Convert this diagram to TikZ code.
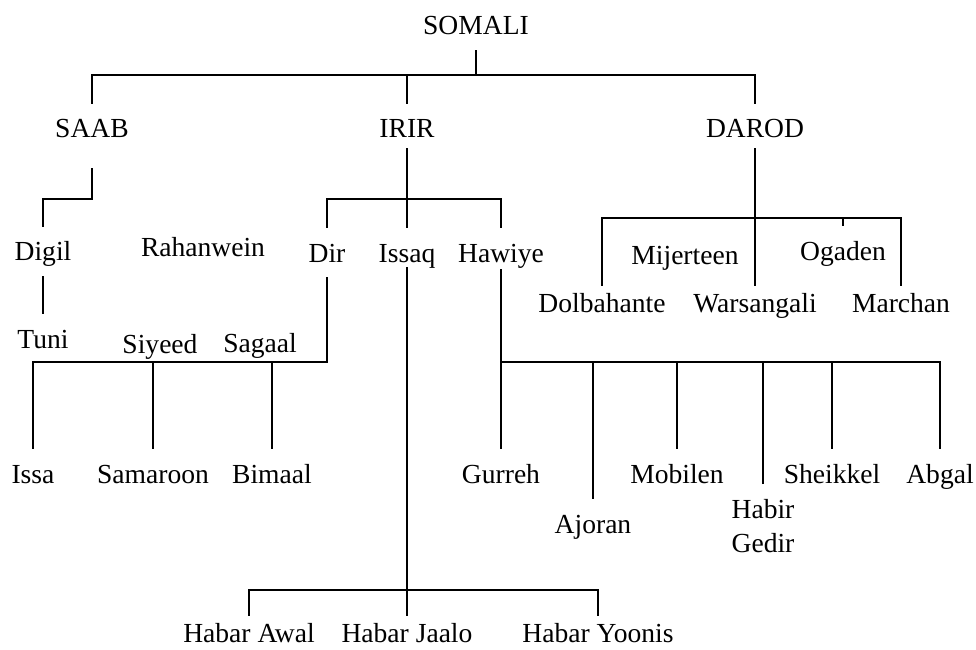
\documentclass[tikz,border=0pt]{standalone}
\usepackage{fontspec}
\setmainfont{Liberation Serif}
\usetikzlibrary{calc}

\begin{document}
\begin{tikzpicture}[
  x=0.025cm, y=-0.025cm,
  font=\fontsize{19.6pt}{24pt}\selectfont,
  lbl/.style={anchor=base, inner xsep=0pt, inner ysep=0.375cm,
              text height=0.475cm, text depth=0pt},
  tight/.style={lbl, inner ysep=0.17cm},
  tree/.style={line width=1pt},
]
\useasboundingbox (0,0) rectangle (976,650);

% top levels
\node[lbl] (somali) at (476,35) {SOMALI};
\node[lbl] (saab) at (92,138) {SAAB};
\node[lbl] (irir) at (407,138) {IRIR};
\node[lbl] (darod) at (755,138) {DAROD};

% third row
\node[lbl] (digil) at (43,261) {Digil};
\node[lbl] (rahan) at (203,256) {Rahanwein};
\node[lbl] (dir) at (327,262) {Dir};
\node[lbl] (issaq) at (407,262) {Issaq};
\node[lbl] (hawiye) at (501,262) {Hawiye};
\node[lbl] (mijer) at (685,265) {Mijerteen};
\node[lbl] (ogaden) at (843,260) {Ogaden};
\node[tight] (dolba) at (602,312) {Dolbahante};
\node[tight] (warsa) at (755,312) {Warsangali};
\node[tight] (marchan) at (901,312) {Marchan};

\node[lbl] (tuni) at (43,348) {Tuni};
\node[lbl] (siyeed) at (160,353) {Siyeed};
\node[lbl] (sagaal) at (260,352) {Sagaal};

% lower rows
\node[lbl] (issa) at (33,483) {Issa};
\node[lbl] (samaroon) at (153,483) {Samaroon};
\node[lbl] (bimaal) at (272,483) {Bimaal};
\node[lbl] (gurreh) at (501,483) {Gurreh};
\node[lbl] (ajoran) at (593,533) {Ajoran};
\node[lbl] (mobilen) at (677,483) {Mobilen};
\node[lbl, text height=, text depth=, align=left, anchor=north] (habir)
  at (763,484) {Habir\\Gedir};
\node[lbl] (sheikkel) at (832,483) {Sheikkel};
\node[lbl] (abgal) at (940,483) {Abgal};

\node[tight] (awal) at (249,642) {Habar Awal};
\node[tight] (jaalo) at (407,642) {Habar Jaalo};
\node[tight] (yoonis) at (598,642) {Habar Yoonis};

% junctions
\coordinate (j0) at (476,75);
\coordinate (j1) at (43,199);
\coordinate (j2) at (407,199);
\coordinate (j3) at (33,362);
\coordinate (j4) at (407,590);
\coordinate (j5) at (501,362);
\coordinate (j6) at (755,218);

\begin{scope}[tree]
\draw (somali.south) -- (j0);
\draw (saab.north) |- (j0) -| (darod.north);
\draw (irir.north) -- (irir.north |- j0);

\draw ([yshift=-0.375cm]saab.south) |- (j1) -- (digil.north);
\draw (digil.south) -- (tuni.north);

\draw ([yshift=0.12cm]irir.south) -- (j2);
\draw (dir.north) |- (j2) -| (hawiye.north);
\draw (j2) -- (issaq.north);

\draw (dir.south) |- (j3) -- (issa.north);
\foreach \n in {samaroon,bimaal}
  \draw (\n.north) -- (\n.north |- j3);

\draw ([yshift=0.25cm]issaq.south) -- (jaalo.north);
\draw (awal.north) |- (j4) -| (yoonis.north);

\draw ([yshift=0.2cm]hawiye.south) -- (gurreh.north);
\draw (j5) -| (abgal.north);
\foreach \n in {ajoran,mobilen,habir,sheikkel}
  \draw (\n.north) -- (\n.north |- j5);

\draw ([yshift=0.12cm]darod.south) -- (warsa.north);
\draw (dolba.north) |- (j6) -| (marchan.north);
\draw (ogaden.north) -- (ogaden.north |- j6);
\end{scope}
\end{tikzpicture}
\end{document}
